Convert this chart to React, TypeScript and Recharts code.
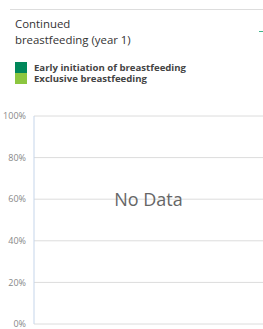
import { ComposedChart, Line, XAxis, YAxis, ReferenceLine, CartesianGrid } from 'recharts';

const categories = [''];
const seriesNames = ['Early initiation of breastfeeding', 'Exclusive breastfeeding'];
const seriesColors = ['#00875a', '#8cc63f'];
const earlyInitiation: (number | null)[] = [null];
const exclusive: (number | null)[] = [null];
const yTicks = [0, 20, 40, 60, 80, 100];

const data = categories.map((c, i) => ({ name: c, early: earlyInitiation[i], exclusive: exclusive[i] }));

export default function App() {
  return (
    <div style={{ position: 'absolute', left: 0, top: 0, width: 263, height: 329, fontFamily: '"Open Sans", sans-serif', background: '#fff' }}>
      <div style={{ position: 'absolute', left: 10, top: 9, width: 253, height: 1, background: '#ddd' }} />
      <div style={{ position: 'absolute', left: 15, top: 16, fontSize: 11.4, lineHeight: '16px', color: '#333' }}>
        Continued
        <br />
        breastfeeding (year 1)
      </div>
      <div style={{ position: 'absolute', left: 259, top: 31, width: 4, height: 1, background: '#3fb58a' }} />
      <div style={{ position: 'absolute', left: 15, top: 62 }}>
        {seriesNames.map((name, i) => (
          <div key={name} style={{ display: 'flex', alignItems: 'center', height: 11 }}>
            <span style={{ width: 12, height: 11, background: seriesColors[i], display: 'inline-block' }} />
            <span style={{ marginLeft: 7, fontSize: 9.6, lineHeight: '11px', fontWeight: 700, color: '#444' }}>{name}</span>
          </div>
        ))}
      </div>
      <ComposedChart width={263} height={329} data={data} margin={{ top: 116, right: 0, bottom: 5, left: 0 }}>
        <CartesianGrid stroke="#dcdcdc" vertical={false} />
        <XAxis dataKey="name" tick={false} tickLine={false} height={0} axisLine={{ stroke: '#c5d5ea' }} />
        <YAxis
          type="number"
          domain={[0, 100]}
          allowDataOverflow
          ticks={yTicks}
          tickFormatter={(v) => `${v}%`}
          width={34}
          tickLine={false}
          axisLine={{ stroke: '#c5d5ea' }}
          tick={{ fontSize: 9, fill: '#888' }}
          tickMargin={2}
          interval={0}
        />
        <ReferenceLine
          y={60}
          stroke="none"
          label={{ value: 'No Data', position: 'center', fontSize: 18, fill: '#666' }}
        />
        <Line dataKey="early" name={seriesNames[0]} stroke={seriesColors[0]} isAnimationActive={false} />
        <Line dataKey="exclusive" name={seriesNames[1]} stroke={seriesColors[1]} isAnimationActive={false} />
      </ComposedChart>
    </div>
  );
}
